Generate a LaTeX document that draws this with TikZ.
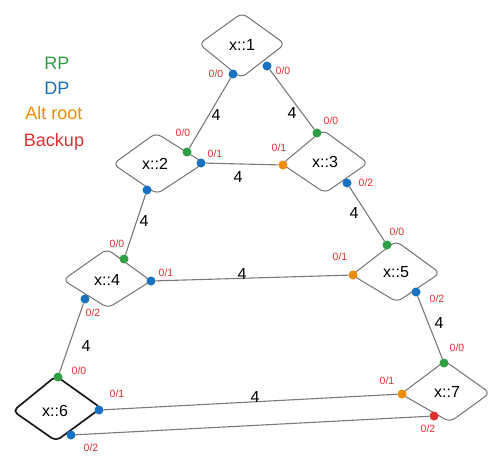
\documentclass[tikz,border=0pt]{standalone}
\usepackage{fontspec}
\setmainfont{Liberation Sans}
\definecolor{rpc}{HTML}{2F9E44}
\definecolor{dpc}{HTML}{1971C2}
\definecolor{altc}{HTML}{F08C00}
\definecolor{bkc}{HTML}{E03131}
\definecolor{edgec}{HTML}{7A7A7A}
\tikzset{
  dot/.style={circle, inner sep=0pt, minimum size=9pt},
  rp/.style={dot, fill=rpc},
  dp/.style={dot, fill=dpc},
  alt/.style={dot, fill=altc},
  bk/.style={dot, fill=bkc},
  port/.style={font=\fontsize{10.5}{10.5}\selectfont, text=bkc, inner sep=0pt},
  lab/.style={font=\fontsize{16}{16}\selectfont, inner sep=0pt},
  wt/.style={font=\fontsize{16}{16}\selectfont, inner sep=0pt},
  link/.style={draw=edgec, line width=1.1pt},
  dia/.style={draw=black!55, line width=1pt, rounded corners=6pt},
  diab/.style={draw=black!90, line width=1.7pt, rounded corners=5pt},
  leg/.style={font=\fontsize{18}{18}\selectfont, inner sep=0pt},
}
\begin{document}
\begin{tikzpicture}[x=1pt,y=-1pt]
\useasboundingbox[fill=white] (0,0) rectangle (502,463);

% legend
\node[leg, text=rpc] (lrp) at (57,63) {RP};
\node[leg, text=dpc] (ldp) at (57,88) {DP};
\node[leg, text=altc] (lalt) at (54,113) {Alt root};
\node[leg, text=bkc] (lbk) at (54,142) {Backup};

% diamonds
\draw[dia] (199,44) -- (242,13) -- (285,44) -- (241,78) -- cycle;
\draw[dia] (113,164) -- (156,133) -- (204,163) -- (157,194) -- cycle;
\draw[dia] (282,164) -- (323,130) -- (368,163) -- (325,193) -- cycle;
\draw[dia] (63,280) -- (107,249) -- (151,281) -- (108,308) -- cycle;
\draw[dia] (352,275) -- (396,241) -- (440,273) -- (397,302) -- cycle;
\draw[diab] (13,411) -- (56,376) -- (101,408) -- (56,441) -- cycle;
\draw[dia] (401,394) -- (445,361) -- (490,393) -- (450,422) -- cycle;

% node labels
\node[lab] (n1) at (242,45) {x::1};
\node[lab] (n2) at (155,164) {x::2};
\node[lab] (n3) at (325,162) {x::3};
\node[lab] (n4) at (107,280) {x::4};
\node[lab] (n5) at (396,272) {x::5};
\node[lab] (n6) at (55,411) {x::6};
\node[lab] (n7) at (447,392) {x::7};

% ports
\node[dp] (d1a) at (233,74) {};
\node[dp] (d1b) at (267,66) {};
\node[rp] (d2a) at (187,152) {};
\node[dp] (d2b) at (201,163) {};
\node[dp] (d2c) at (147,190) {};
\node[rp] (d3a) at (317,133) {};
\node[alt] (d3b) at (283,165) {};
\node[dp] (d3c) at (347,183) {};
\node[rp] (d4a) at (124,259) {};
\node[dp] (d4b) at (151,281) {};
\node[dp] (d4c) at (85,299) {};
\node[rp] (d5a) at (387,245) {};
\node[alt] (d5b) at (353,275) {};
\node[dp] (d5c) at (416,292) {};
\node[rp] (d6a) at (58,377) {};
\node[dp] (d6b) at (99,410) {};
\node[dp] (d6c) at (71,435) {};
\node[rp] (d7a) at (444,363) {};
\node[alt] (d7b) at (402,394) {};
\node[bk] (d7c) at (434,416) {};

% links
\draw[link] (d1a) -- (d2a);
\draw[link] (d1b) -- (d3a);
\draw[link] (d2b) -- (d3b);
\draw[link] (d2c) -- (d4a);
\draw[link] (d3c) -- (d5a);
\draw[link] (d4b) -- (d5b);
\draw[link] (d4c) -- (d6a);
\draw[link] (d5c) -- (d7a);
\draw[link] (d6b) -- (d7b);
\draw[link] (d6c) -- (d7c);

% weights
\node[wt] (w12) at (216,115) {4};
\node[wt] (w13) at (292,113) {4};
\node[wt] (w23) at (238,177) {4};
\node[wt] (w24) at (144,221) {4};
\node[wt] (w35) at (354,213) {4};
\node[wt] (w45) at (242,274) {4};
\node[wt] (w46) at (86,346) {4};
\node[wt] (w57) at (439,323) {4};
\node[wt] (w67) at (255,397) {4};

% port labels
\node[port] (p1a) at (216,74) {0/0};
\node[port] (p1b) at (283,71) {0/0};
\node[port] (p2a) at (183,133) {0/0};
\node[port] (p2b) at (215,154) {0/1};
\node[port] (p3a) at (331,121) {0/0};
\node[port] (p3b) at (279,148) {0/1};
\node[port] (p3c) at (366,183) {0/2};
\node[port] (p4a) at (117,244) {0/0};
\node[port] (p4b) at (166,273) {0/1};
\node[port] (p4c) at (93,313) {0/2};
\node[port] (p5a) at (397,232) {0/0};
\node[port] (p5b) at (340,257) {0/1};
\node[port] (p5c) at (437,299) {0/2};
\node[port] (p6a) at (79,371) {0/0};
\node[port] (p6b) at (117,394) {0/1};
\node[port] (p6c) at (91,448) {0/2};
\node[port] (p7a) at (457,348) {0/0};
\node[port] (p7b) at (387,381) {0/1};
\node[port] (p7c) at (428,429) {0/2};
\end{tikzpicture}
\end{document}
